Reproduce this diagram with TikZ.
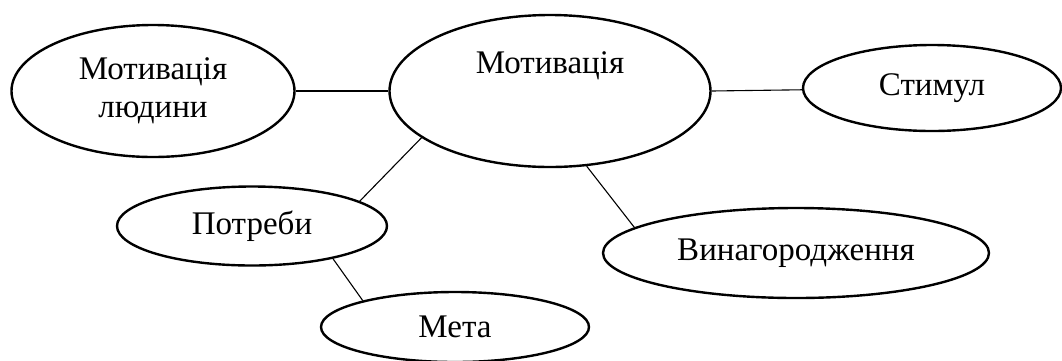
\documentclass[tikz,border=0pt]{standalone}
\usepackage{fontspec}
\setmainfont{Liberation Serif}
\usetikzlibrary{shapes.geometric}

\begin{document}
\begin{tikzpicture}[x=1pt,y=-1pt,
	oval/.style={ellipse, draw, line width=2.4pt, inner sep=0pt, align=center, font=\fontsize{33}{38}\selectfont},
	txt/.style={inner sep=0pt, font=\fontsize{33}{38}\selectfont},
	link/.style={line width=1.1pt}]
	\useasboundingbox (0,0) rectangle (1062,360);
	\node[oval, minimum width=283pt, minimum height=132pt] (lud) at (153,91) {Мотивація\\людини};
	\node[oval, minimum width=321pt, minimum height=152pt] (mot) at (550,91) {};
	\node[txt] (motT) at (550,66) {Мотивація};
	\node[oval, minimum width=258pt, minimum height=86pt] (stym) at (932,88) {Стимул};
	\node[oval, minimum width=270pt, minimum height=79pt] (potr) at (252,226) {Потреби};
	\node[oval, minimum width=386pt, minimum height=90pt] (vyn) at (796,253) {Винагородження};
	\node[oval, minimum width=268pt, minimum height=70pt] (meta) at (455,327) {Мета};
	\draw [link] (lud) -- (mot.180);
	\draw [link] (mot.0) -- (stym);
	\draw [link] (mot.200) -- (potr.13);
	\draw [link] (mot.296) -- (vyn.171);
	\draw [link] (potr.338) -- (meta.164);
\end{tikzpicture}
\end{document}
